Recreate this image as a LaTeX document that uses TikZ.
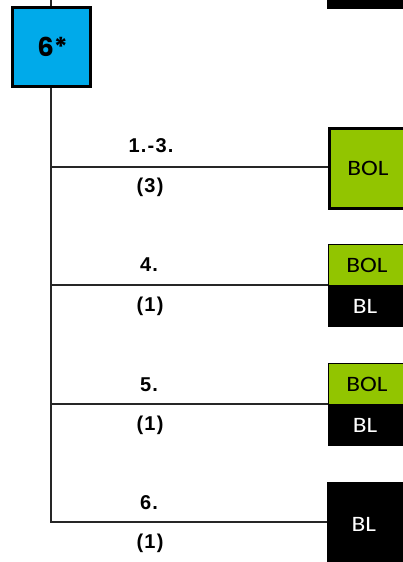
\documentclass[tikz,border=0pt]{standalone}
\usepackage{fontspec}
\setmainfont{Liberation Sans}
\newfontfamily\boxfont{Carlito}
\newfontfamily\headfont{Poppins}
\definecolor{cblue}{HTML}{00AAEA}
\definecolor{cgreen}{HTML}{92C500}
\newcommand{\bx}[1]{\scalebox{1.15}[1]{#1}}
\begin{document}
\begin{tikzpicture}[x=1pt,y=-1pt,
  conn/.style={line width=1.8pt,draw=black!85},
  lbl/.style={font=\fontsize{20}{22}\selectfont\bfseries\addfontfeature{LetterSpace=6},inner sep=0pt,anchor=center},
  boxtxt/.style={font=\boxfont\fontsize{22}{24}\selectfont,inner sep=0pt},
  greenbig/.style={draw=black,line width=3pt,fill=cgreen,minimum width=82pt,minimum height=80pt,anchor=north west,inner sep=0pt},
  greenhalf/.style={draw=black,line width=1pt,fill=cgreen,minimum width=82pt,minimum height=41pt,anchor=north west,inner sep=0pt},
  blackhalf/.style={draw=black,line width=1pt,fill=black,text=white,minimum width=82pt,minimum height=41pt,anchor=north west,inner sep=0pt},
]
\useasboundingbox (0,0) rectangle (403,562);
\clip (0,0) rectangle (403,562);
% top partial black box
\node[fill=black,minimum width=90pt,minimum height=20pt,anchor=south west,inner sep=0pt] (topblk) at (327,9) {};
% blue box
\node[draw=black,line width=3pt,fill=cblue,minimum width=78pt,minimum height=79pt,inner sep=0pt,
      font=\headfont\fontsize{26}{28}\selectfont\bfseries] (b6) at (51,47) {\hspace*{3pt}\raisebox{-1pt}{6*}};
\coordinate (top) at (51,-2);
\draw[conn] (top) -- (b6.north);
% boxes
\node[greenbig,boxtxt] (r1) at (328,127) {\hspace*{-5pt}\bx{BOL}};
\node[greenhalf,boxtxt] (r2a) at (328,244) {\hspace*{-5pt}\bx{BOL}};
\node[blackhalf,boxtxt] (r2b) at (328,285) {\hspace*{-9pt}\bx{BL}};
\node[greenhalf,boxtxt] (r3a) at (328,363) {\hspace*{-5pt}\bx{BOL}};
\node[blackhalf,boxtxt] (r3b) at (328,404) {\hspace*{-9pt}\bx{BL}};
\node[fill=black,text=white,boxtxt,minimum width=82pt,minimum height=84pt,anchor=north west] (r4) at (327,482) {\hspace*{-9pt}\raisebox{-1pt}{\bx{BL}}};
% trunk and branches
\coordinate (j1) at (51,167);
\coordinate (j2) at (51,285);
\coordinate (j3) at (51,404);
\coordinate (j4) at (51,522);
\draw[conn] (b6.south) -- (j4) -- (j4 -| r4.west);
\draw[conn] (j1) -- (j1 -| r1.west);
\draw[conn] (j2) -- (r2b.north west);
\draw[conn] (j3) -- (r3b.north west);
% labels
\node[lbl] (l1) at (151,146) {1.-3.};
\node[lbl] (n1) at (150,187) {(3)};
\node[lbl] (l2) at (149,265) {4.};
\node[lbl] (n2) at (150,306) {(1)};
\node[lbl] (l3) at (149,385) {5.};
\node[lbl] (n3) at (150,425) {(1)};
\node[lbl] (l4) at (149,503) {6.};
\node[lbl] (n4) at (150,543) {(1)};
\end{tikzpicture}
\end{document}
